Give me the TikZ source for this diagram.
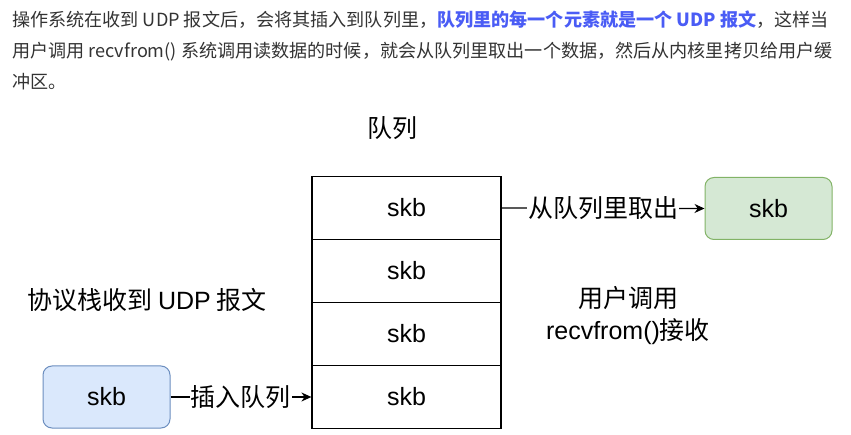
\documentclass[tikz,border=0pt]{standalone}
\usepackage{fontspec}
\setmainfont{Noto Sans CJK SC}
\newfontfamily\lat{Liberation Sans}
\usetikzlibrary{arrows.meta}
\definecolor{txt}{HTML}{333333}
\definecolor{hl}{HTML}{4A5CF5}
\definecolor{gfill}{HTML}{D5E8D4}
\definecolor{gline}{HTML}{82B366}
\definecolor{bfill}{HTML}{DAE8FC}
\definecolor{bline}{HTML}{6C8EBF}
\tikzset{
  para/.style={anchor=west, inner sep=0pt, text=txt, font=\fontsize{18.1}{20}\selectfont},
  dlabel/.style={inner sep=0pt, text=black, font=\fontsize{25}{32}\selectfont, align=center},
  cell/.style={draw=black, line width=1.2pt, minimum width=189pt, minimum height=63pt, inner sep=0pt, font=\lat\fontsize{25}{30}\selectfont},
  skbbox/.style={rounded corners=9pt, line width=1pt, minimum width=127pt, minimum height=62pt, inner sep=0pt, font=\lat\fontsize{25}{30}\selectfont},
  conn/.style={line width=1.2pt, -{Stealth[length=10pt,width=9pt]}},
  clabel/.style={fill=white, inner sep=1pt, font=\fontsize{25}{30}\selectfont}
}
\begin{document}
\begin{tikzpicture}[x=1pt,y=-1pt]
\useasboundingbox (0,0) rectangle (851,435);
\node[para] (l1) at (12,20) {操作系统在收到 UDP 报文后，会将其插入到队列里，\textcolor{hl}{\bfseries 队列里的每一个元素就是一个 UDP 报文}，这样当};
\node[para] (l2) at (12,52) {用户调用 recvfrom() 系统调用读数据的时候，就会从队列里取出一个数据，然后从内核里拷贝给用户缓};
\node[para] (l3) at (12,82) {冲区。};

\node[dlabel] (title) at (392,128) {队列};
\node[cell] (q1) at (406.5,208) {skb};
\node[cell] (q2) at (406.5,271) {skb};
\node[cell] (q3) at (406.5,334) {skb};
\node[cell] (q4) at (406.5,397) {skb};

\node[skbbox, fill=gfill, draw=gline] (out) at (768.5,208.5) {skb};
\node[skbbox, fill=bfill, draw=bline] (in) at (106.5,397) {skb};

\node[dlabel] (stack) at (147,300) {协议栈收到 {\lat UDP} 报文};
\node[dlabel] (user) at (628,316) {用户调用\\{\lat recvfrom()}接收};

\draw[conn] (q1.east) -- node[clabel] {从队列里取出} (out.west);
\draw[conn] (in.east) -- node[clabel] {插入队列} (q4.west);
\end{tikzpicture}
\end{document}
